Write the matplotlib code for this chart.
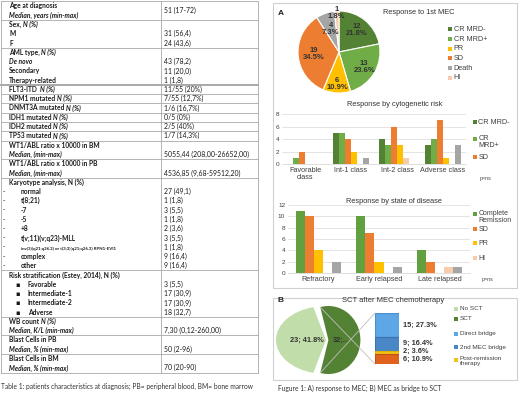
import matplotlib
matplotlib.use("Agg")
import matplotlib.pyplot as plt
from matplotlib.patches import Rectangle, ConnectionPatch
import numpy as np

# ---------------- data ----------------
table_labels = [
    "Age at diagnosis", "|Median, years (min-max)", "Sex, |N (%)", "M", "F",
    "AML type, |N (%)", "|De novo", "Secondary", "Therapy-related",
    "FLT3-ITD  |N (%)", "NPM1 mutated |N (%)", "DNMT3A mutated |N (%)",
    "IDH1 mutated |N (%)", "IDH2 mutated |N (%)", "TP53 mutated |N (%)",
    "WT1/ABL ratio x 10000 in BM", "|Median, (min-max)",
    "WT1/ABL ratio x 10000 in PB", "|Median, (min-max)",
    "Karyotype analysis, N (%)",
    "-normal", "-t(8;21)", "--7", "--5", "-+8", "-t(v;11)(v;q23)-MLL",
    "-inv(3)(q21;q26.2) or t(3;3)(q21;q26.3) RPN1-EVI1", "-complex", "-other",
    "Risk stratification (Estey, 2014), N (%)",
    "*Favorable", "*Intermediate-1", "*Intermediate-2", "*Adverse",
    "WB count |N (%)", "|Median, K/L (min-max)",
    "Blast Cells in PB", "|Median, % (min-max)",
    "Blast Cells in BM", "|Median, % (min-max)",
]
table_values = [
    "51 (17-72)", "", "", "31 (56,4)", "24 (43,6)",
    "", "43 (78,2)", "11 (20,0)", "1 (1,8)",
    "11/55 (20%)", "7/55 (12,7%)", "1/6 (16,7%)",
    "0/5 (0%)", "2/5 (40%)", "1/7 (14,3%)",
    "", "5055,44 (208,00-26652,00)",
    "", "4536,85 (9,68-59512,20)",
    "",
    "27 (49,1)", "1 (1,8)", "3 (5,5)", "1 (1,8)", "2 (3,6)", "3 (5,5)",
    "1 (1,8)", "9 (16,4)", "9 (16,4)",
    "",
    "3 (5,5)", "17 (30,9)", "17 (30,9)", "18 (32,7)",
    "", "7,30 (0,12-260,00)",
    "", "50 (2-96)",
    "", "70 (20-90)",
]
group_ends = [1, 4, 8, 9, 10, 11, 12, 13, 14, 16, 18, 28, 33, 35, 37, 39]

resp_labels = ["CR MRD-", "CR MRD+", "PR", "SD", "Death", "HI"]
resp_counts = [12, 13, 6, 19, 4, 1]

cyto_classes = ["Favorable\nclass", "Int-1 class", "Int-2 class", "Adverse class"]
cyto_cr_neg = [0, 5, 4, 3]
cyto_cr_pos = [1, 5, 3, 4]
cyto_sd = [2, 4, 6, 7]
cyto_pr = [0, 2, 3, 1]
cyto_hi = [0, 0, 1, 0]
cyto_death = [0, 1, 0, 3]
cyto_legend = ["CR MRD-", "CR\nMRD+", "SD"]

state_classes = ["Refractory", "Early relapsed", "Late relapsed"]
state_cr = [11, 10, 4]
state_sd = [10, 7, 2]
state_pr = [4, 2, 0]
state_hi = [0, 0, 1]
state_death = [2, 1, 1]
state_legend = ["Complete\nRemission", "SD", "PR", "HI"]

sct_labels = ["No SCT", "SCT"]
sct_counts = [23, 32]
sct_text = ["23; 41.8%", "32;..."]
bridge_counts = [15, 9, 2, 6]
legendB = ["No SCT", "SCT", "Direct bridge", "2nd MEC bridge", "Post-remission\ntherapy"]

# ---------------- styles ----------------
W, H = 520, 394
TFONT = "Lato"
CFONT = "Liberation Sans"
TXT = "#404040"
C_DKGREEN = "#548235"
C_GREEN = "#70AD47"
C_MGREEN = "#62A03F"
C_YELLOW = "#FFC000"
C_ORANGE = "#ED7D31"
C_GRAY = "#A5A5A5"
C_PINK = "#F8CBAD"
C_LTGREEN = "#C0DDAA"
C_LTBLUE = "#5DA7E6"
C_BLUE = "#4A87C6"
C_BYELLOW = "#F2C316"
C_BORANGE = "#E0621C"

fig = plt.figure(figsize=(W / 100, H / 100), dpi=100)
renderer = fig.canvas.get_renderer()


def text_w(s, fs, **kw):
    t = fig.text(0, 0, s, fontsize=fs, **kw)
    w = t.get_window_extent(renderer).width
    t.remove()
    return w


def fit_size(s, target_px, **kw):
    return 10 * target_px / text_w(s, 10, **kw)


def ax_px(x0, y0, x1, y1, **kw):
    return fig.add_axes([x0 / W, 1 - y1 / H, (x1 - x0) / W, (y1 - y0) / H], **kw)


ov = ax_px(0, 0, W, H)
ov.set_xlim(0, W)
ov.set_ylim(H, 0)
ov.axis("off")

# ---------------- table ----------------
row0, rowh = 6.0, 9.28
tx0, tx1, tx2 = 0.5, 161, 258
vfs = fit_size("5055,44 (208,00-26652,00)", 84, family=TFONT)
lfs = fit_size("Risk stratification (Estey, 2014), N (%)", 112, family=TFONT, weight="bold")
cfs = fit_size("Table 1: patients characteristics at diagnosis; PB= peripheral blood, BM= bone marrow",
               252, family=TFONT)
lc = "#A8A8A8"
top = row0 - rowh / 2
bot = row0 + (len(table_labels) - 0.5) * rowh
ov.plot([tx0, tx2], [top, top], color=lc, lw=0.6)
for g in group_ends:
    yy = row0 + (g + 0.5) * rowh
    ov.plot([tx0, tx2], [yy, yy], color=lc, lw=1.4 if g == 8 else 0.6)
for xx in (tx0, tx1, tx2):
    ov.plot([xx, xx], [top, bot], color=lc, lw=0.6)

tc = "#1a1a1a"
base = 2.4  # baseline offset below row centre (px)
for i, (lab, val) in enumerate(zip(table_labels, table_values)):
    y = row0 + i * rowh + base
    x = 9
    fs = lfs
    if lab.startswith("-"):
        ov.text(3, y, "-", fontsize=lfs, family=TFONT, va="baseline", color=tc)
        lab = lab[1:]
        x = 21
        if len(lab) > 30:
            fs = min(lfs, fit_size(lab, 96, family=TFONT, weight="bold"))
    elif lab.startswith("*"):
        ov.text(15, y, "\u25aa", fontsize=lfs, family=["DejaVu Sans"], va="baseline", color=tc)
        lab = lab[1:]
        x = 28
    if "|" in lab:
        a, b = lab.split("|")
        if a:
            ov.text(x, y, a, fontsize=fs, family=TFONT, weight="bold", va="baseline", color=tc)
            x += text_w(a, fs, family=TFONT, weight="bold")
        ov.text(x, y, b, fontsize=fs, family=TFONT, weight="bold", style="italic",
                va="baseline", color=tc)
    else:
        ov.text(x, y, lab, fontsize=fs, family=TFONT, weight="bold", va="baseline", color=tc)
    if val:
        vy = y + (rowh / 2 if i == 0 else 0)
        ov.text(164, vy, val, fontsize=vfs, family=TFONT, va="baseline", color=tc)

ov.text(1, 386, "Table 1: patients characteristics at diagnosis; PB= peripheral blood, BM= bone marrow",
        fontsize=cfs, family=TFONT, va="center", color="#333")

# ---------------- panel boxes ----------------
bc = "#D0D0D0"
ov.add_patch(Rectangle((273, 3), 244, 285, fill=False, ec=bc, lw=0.8))
ov.add_patch(Rectangle((273, 298), 244, 82, fill=False, ec=bc, lw=0.8))
ov.text(278, 13, "A", fontsize=6, weight="bold", family=CFONT, va="center", color="#222")
ov.text(277, 300, "B", fontsize=6, weight="bold", family=CFONT, va="center", color="#222")
ov.text(278, 388, "Fugure 1: A) response to MEC; B) MEC as bridge to SCT",
        fontsize=cfs, family=TFONT, va="center", color="#333")


def legend_at(x, ys, labels, colors, fs=5.2):
    for y, l, c in zip(ys, labels, colors):
        ov.add_patch(Rectangle((x, y - 2), 4, 4, color=c, lw=0))
        if "\n" in l:
            ov.text(x + 5.5, y - 3.6, l, fontsize=fs, family=CFONT, va="top", color=TXT,
                    linespacing=0.95)
        else:
            ov.text(x + 5.5, y, l, fontsize=fs, family=CFONT, va="center", color=TXT)


# ---------------- pie A ----------------
axA = ax_px(298, 11, 380, 93)
colsA = [C_DKGREEN, C_GREEN, C_YELLOW, C_ORANGE, C_GRAY, C_PINK]
wedges, _ = axA.pie(resp_counts, colors=colsA, startangle=90, counterclock=False,
                    wedgeprops=dict(edgecolor="white", linewidth=0.8))
axA.set_xlim(-1, 1)
axA.set_ylim(-1, 1)
totA = sum(resp_counts)
distA = [0.68, 0.72, 0.78, 0.62, 0.6, 0.95]
for w, n, d in zip(wedges, resp_counts, distA):
    ang = np.deg2rad((w.theta1 + w.theta2) / 2)
    axA.text(d * np.cos(ang), d * np.sin(ang), f"{n}\n{100 * n / totA:.1f}%", ha="center",
             va="center", fontsize=5.5, weight="bold", family=CFONT, color="#333", linespacing=1.0)
ov.text(419, 12, "Response to 1st MEC", fontsize=5.3, family=CFONT, ha="center", va="center", color="#333")
legend_at(448, [29, 39, 48.5, 58, 68, 77.5], resp_labels, colsA)

# ---------------- bar chart: cytogenetic ----------------
ax1 = ax_px(282, 114, 466, 164)
series1 = [cyto_cr_neg, cyto_cr_pos, cyto_sd, cyto_pr, cyto_hi, cyto_death]
cols1 = [C_DKGREEN, C_GREEN, C_ORANGE, C_YELLOW, C_PINK, C_GRAY]
bw1 = 0.13
x1 = np.arange(len(cyto_classes))
for k, (s, c) in enumerate(zip(series1, cols1)):
    ax1.bar(x1 + (k - 2.5) * bw1, s, bw1, color=c, zorder=3)
ax1.set_ylim(0, 8)
ax1.set_xlim(-0.5, len(cyto_classes) - 0.5)
ax1.set_yticks([0, 2, 4, 6, 8])
ax1.set_xticks(x1)
ax1.set_xticklabels(cyto_classes, fontsize=5.2, family=CFONT, color=TXT, linespacing=1.0)
ax1.grid(axis="y", color="#D9D9D9", lw=0.5, zorder=0)
ov.text(395, 104, "Response by cytogenetic risk", fontsize=5.3, family=CFONT, ha="center",
        va="center", color="#333")
legend_at(473, [122, 139, 157], cyto_legend, cols1[:3])
ov.text(480, 178, "p=ns", fontsize=3.8, family=CFONT, va="center", color=TXT)

# ---------------- bar chart: state ----------------
ax2 = ax_px(288, 205, 470, 273)
series2 = [state_cr, state_sd, state_pr, state_hi, state_death]
cols2 = [C_MGREEN, C_ORANGE, C_YELLOW, C_PINK, C_GRAY]
bw2 = 0.15
x2 = np.arange(len(state_classes))
for k, (s, c) in enumerate(zip(series2, cols2)):
    ax2.bar(x2 + (k - 2) * bw2, s, bw2, color=c, zorder=3)
ax2.set_ylim(0, 12)
ax2.set_xlim(-0.5, len(state_classes) - 0.5)
ax2.set_yticks(range(0, 13, 2))
ax2.set_xticks(x2)
ax2.set_xticklabels(state_classes, fontsize=5.2, family=CFONT, color=TXT)
ax2.grid(axis="y", color="#D9D9D9", lw=0.5, zorder=0)
ov.text(394, 201, "Response by state of disease", fontsize=5.3, family=CFONT, ha="center",
        va="center", color="#333")
legend_at(473, [214, 229, 243, 258], state_legend, cols2[:4], fs=5.0)
ov.text(482, 279, "p=ns", fontsize=3.8, family=CFONT, va="center", color=TXT)

for ax in (ax1, ax2):
    ax.set_facecolor("none")
    for sp in ("top", "right", "left"):
        ax.spines[sp].set_visible(False)
    ax.spines["bottom"].set_color("#D9D9D9")
    ax.spines["bottom"].set_linewidth(0.6)
    ax.tick_params(length=0, pad=2)
    ax.tick_params(axis="y", labelsize=4.6, labelcolor=TXT)
    for t in ax.get_yticklabels():
        t.set_family(CFONT)

# ---------------- panel B: bar of pie ----------------
start = 180 - 180 * sct_counts[0] / sum(sct_counts)
axB1 = ax_px(276, 306, 376, 374)
wB1, _ = axB1.pie(sct_counts, colors=[C_LTGREEN, "none"], startangle=start, counterclock=True,
                  wedgeprops=dict(edgecolor="none", linewidth=0))
axB1.set_aspect("auto")
axB1.set_xlim(-1, 1)
axB1.set_ylim(-1, 1)
wB1[1].set_visible(False)
axB2 = ax_px(290, 306, 354, 374)
wB2, _ = axB2.pie(sct_counts, colors=["none", C_DKGREEN], startangle=start, counterclock=True,
                  explode=[0, 0.2], wedgeprops=dict(edgecolor="none", linewidth=0))
axB2.set_aspect("auto")
axB2.set_xlim(-1, 1)
axB2.set_ylim(-1, 1)
wB2[0].set_visible(False)
axB1.text(-0.38, 0, sct_text[0], fontsize=5.3, weight="bold", family=CFONT, ha="center",
          va="center", color="#333")
axB2.text(0.62, 0, sct_text[1], fontsize=5.3, weight="bold", family=CFONT, ha="center",
          va="center", color="#333")

axBar = ax_px(375, 313, 399, 364)
colsBar = [C_LTBLUE, C_BLUE, C_BYELLOW, C_BORANGE]
edgesBar = ["#4A90D0", "#3C73AD", "#E0B000", "#C05015"]
btm = sum(bridge_counts)
for n, c, e in zip(bridge_counts, colsBar, edgesBar):
    btm -= n
    axBar.bar(0, n, 1.0, bottom=btm, color=c, edgecolor=e, lw=0.8)
axBar.set_xlim(-0.5, 0.5)
axBar.set_ylim(0, sum(bridge_counts))
axBar.axis("off")
totB = sum(sct_counts)
lab_y = [325, 343, 351, 359]
for n, yy in zip(bridge_counts, lab_y):
    ov.text(403, yy, f"{n}; {100 * n / totB:.1f}%", fontsize=5.3, weight="bold", family=CFONT,
            va="center", color="#333")

wS = wB2[1]
cxs, cys = wS.center
r = wS.r
for ang, yb in ((wS.theta1 + 360, sum(bridge_counts)), (wS.theta2, 0)):
    a = np.deg2rad(ang)
    con = ConnectionPatch(xyA=(cxs + r * np.cos(a), cys + r * np.sin(a)), coordsA=axB2.transData,
                          xyB=(-0.5, yb), coordsB=axBar.transData, color="#BFBFBF", lw=0.6)
    fig.add_artist(con)

ov.text(393, 300, "SCT after MEC chemotherapy", fontsize=5.5, family=CFONT, ha="center",
        va="center", color="#333")
legend_at(454, [309, 319, 334, 347, 359.5], legendB,
          [C_LTGREEN, C_DKGREEN, C_LTBLUE, C_BLUE, C_BYELLOW], fs=4.6)

fig.savefig("out.png", dpi=100)
